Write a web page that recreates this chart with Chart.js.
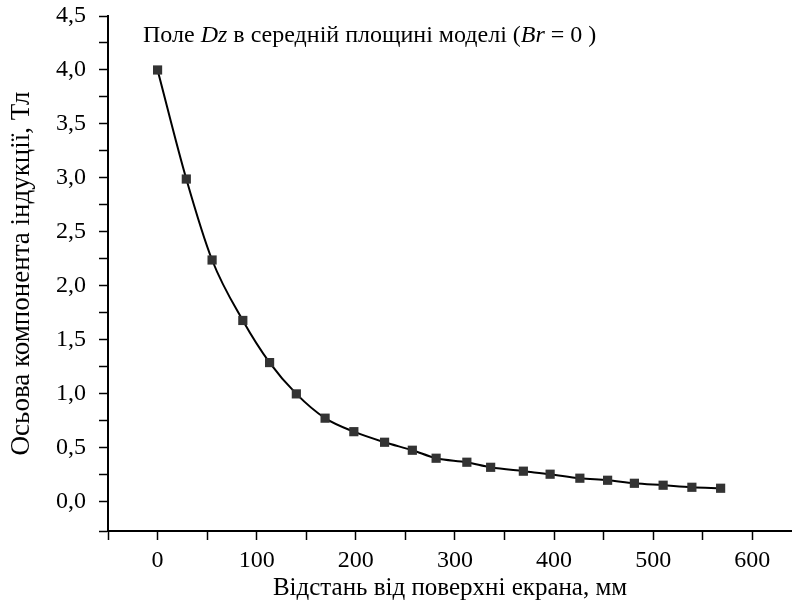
<!DOCTYPE html>
<html>
<head>
<meta charset="utf-8">
<script src="https://cdn.jsdelivr.net/npm/chart.js@4.4.0/dist/chart.umd.min.js"></script>
<style>
  html, body { margin: 0; padding: 0; background: #fff; }
  #wrap { width: 792px; height: 603px; }
</style>
</head>
<body>
<div id="wrap"><canvas id="chart"></canvas></div>
<script>
// distance from screen surface, mm
const distMm = [0, 29, 55, 86, 113, 140, 169, 198, 229, 257, 281, 312, 336, 369, 396, 426, 454, 481, 510, 539, 568];
// axial induction component, T
const fieldT = [4.0, 2.99, 2.24, 1.68, 1.29, 1.0, 0.775, 0.65, 0.552, 0.478, 0.404, 0.367, 0.32, 0.284, 0.256, 0.219, 0.2, 0.172, 0.154, 0.135, 0.126];

const xTickStep = 50, xLabelStep = 100;
const yTickStep = 0.25, yLabelStep = 0.5;
const xMin = -50, xMax = 640;
const yMin = -0.27, yMax = 4.5;

const serif = 'Liberation Serif, Times New Roman, serif';
const fmtComma = v => v.toFixed(1).replace('.', ',');

// title drawn inside the plot, with italic parts
const titleParts = [
  ['Поле ', false], ['Dz', true], [' в середній площині моделі (', false],
  ['Br', true], [' = 0 )', false]
];

const titlePlugin = {
  id: 'innerTitle',
  afterDraw(chart) {
    const ctx = chart.ctx;
    ctx.save();
    ctx.fillStyle = '#000';
    ctx.textBaseline = 'alphabetic';
    let x = 143;
    for (const [txt, it] of titleParts) {
      ctx.font = (it ? 'italic ' : '') + '24px ' + serif;
      ctx.fillText(txt, x, 42);
      x += ctx.measureText(txt).width;
    }
    ctx.restore();
  }
};

const multiples = (lo, hi, step) => {
  const out = [];
  for (let v = Math.ceil(lo / step - 1e-9) * step; v <= hi + 1e-9; v += step) out.push({ value: +v.toFixed(4) });
  return out;
};

new Chart(document.getElementById('chart'), {
  type: 'line',
  data: {
    datasets: [{
      data: distMm.map((d, i) => ({ x: d, y: fieldT[i] })),
      borderColor: '#000',
      borderWidth: 2,
      cubicInterpolationMode: 'monotone',
      pointStyle: 'rect',
      pointRadius: 6.5,
      pointBackgroundColor: '#333',
      pointBorderColor: '#333',
      pointBorderWidth: 0
    }]
  },
  options: {
    responsive: true,
    maintainAspectRatio: false,
    animation: false,
    layout: { autoPadding: false, padding: { top: 16, right: 0, left: 0, bottom: 0 } },
    plugins: { legend: { display: false }, tooltip: { enabled: false } },
    scales: {
      x: {
        type: 'linear', min: xMin, max: xMax,
        afterFit: s => { s.height = 72; s.paddingLeft = 0; s.paddingRight = 0; },
        afterBuildTicks: s => { s.ticks = multiples(xMin, xMax, xTickStep); },
        grid: { drawOnChartArea: false, drawTicks: true, tickLength: 9, tickWidth: 1.5, tickColor: '#000' },
        border: { display: true, color: '#000', width: 2 },
        ticks: {
          autoSkip: false, maxRotation: 0, padding: 6, color: '#000',
          font: { family: serif, size: 24 },
          callback: v => (v >= 0 && Math.abs(v % xLabelStep) < 1e-6) ? String(v) : ''
        },
        title: {
          display: true, text: 'Відстань від поверхні екрана, мм', color: '#000',
          font: { family: serif, size: 25 }, padding: { top: 0, bottom: 0 }
        }
      },
      y: {
        type: 'linear', min: yMin, max: yMax,
        afterFit: s => { s.width = 108; s.paddingTop = 0; s.paddingBottom = 0; },
        afterBuildTicks: s => { s.ticks = [{ value: yMin }].concat(multiples(0, yMax, yTickStep)); },
        grid: { drawOnChartArea: false, drawTicks: true, tickLength: 9, tickWidth: 1.5, tickColor: '#000' },
        border: { display: true, color: '#000', width: 2 },
        ticks: {
          autoSkip: false, padding: 13, color: '#000',
          font: { family: serif, size: 24 },
          callback: v => (v >= 0 && Math.abs((v / yLabelStep) - Math.round(v / yLabelStep)) < 1e-6) ? fmtComma(v) : ''
        },
        title: {
          display: true, text: 'Осьова компонента індукції, Тл', color: '#000',
          font: { family: serif, size: 27 }, padding: { top: 6, bottom: 0 }
        }
      }
    }
  },
  plugins: [titlePlugin]
});
</script>
</body>
</html>
